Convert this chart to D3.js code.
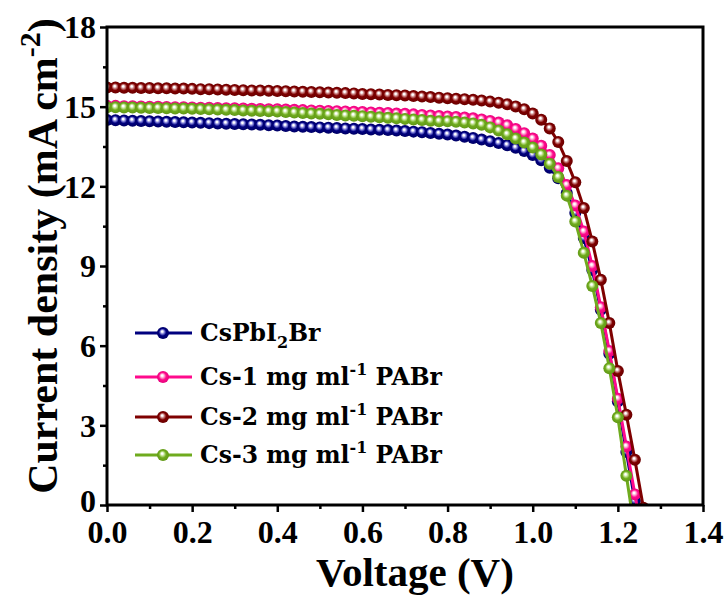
<!DOCTYPE html>
<html>
<head>
<meta charset="utf-8">
<script src="https://cdn.jsdelivr.net/npm/d3@7"></script>
<style>
  body { margin: 0; background: #fff; }
  svg { display: block; }
</style>
</head>
<body>
<svg id="chart"></svg>
<script>
// measured voltage steps (V)
const voltage = [
  0.00, 0.02, 0.04, 0.06, 0.08, 0.10, 0.12, 0.14, 0.16, 0.18,
  0.20, 0.22, 0.24, 0.26, 0.28, 0.30, 0.32, 0.34, 0.36, 0.38,
  0.40, 0.42, 0.44, 0.46, 0.48, 0.50, 0.52, 0.54, 0.56, 0.58,
  0.60, 0.62, 0.64, 0.66, 0.68, 0.70, 0.72, 0.74, 0.76, 0.78,
  0.80, 0.82, 0.84, 0.86, 0.88, 0.90, 0.92, 0.94, 0.96, 0.98,
  1.00, 1.02, 1.04, 1.06, 1.08, 1.10, 1.12, 1.14, 1.16, 1.18,
  1.20, 1.22, 1.24, 1.26
];

// current density (mA cm-2), one value per voltage step
const jCsPbI2Br = [
  14.50, 14.49, 14.48, 14.47, 14.46, 14.45, 14.44, 14.43, 14.42, 14.41,
  14.40, 14.39, 14.38, 14.37, 14.36, 14.35, 14.34, 14.33, 14.32, 14.30,
  14.29, 14.27, 14.25, 14.24, 14.23, 14.22, 14.21, 14.20, 14.18, 14.17,
  14.16, 14.14, 14.13, 14.12, 14.10, 14.08, 14.06, 14.04, 14.01, 13.98,
  13.95, 13.91, 13.87, 13.82, 13.76, 13.70, 13.63, 13.55, 13.45, 13.33,
  13.18, 12.98, 12.70, 12.30, 11.75, 11.00, 10.05, 8.85, 7.35, 5.70,
  3.90, 2.00, 0.15, -1.70
];
const jCs1 = [
  15.03, 15.03, 15.02, 15.02, 15.01, 15.00, 15.00, 14.99, 14.98, 14.98,
  14.97, 14.96, 14.96, 14.95, 14.94, 14.94, 14.93, 14.92, 14.91, 14.90,
  14.90, 14.89, 14.88, 14.87, 14.86, 14.85, 14.84, 14.83, 14.82, 14.81,
  14.80, 14.78, 14.77, 14.76, 14.74, 14.73, 14.71, 14.69, 14.67, 14.65,
  14.63, 14.61, 14.59, 14.56, 14.52, 14.46, 14.40, 14.30, 14.16, 14.00,
  13.80, 13.53, 13.18, 12.68, 12.05, 11.28, 10.30, 9.00, 7.45, 5.80,
  4.00, 2.20, 0.40, -1.40
];
const jCs2 = [
  15.72, 15.72, 15.71, 15.71, 15.70, 15.70, 15.69, 15.69, 15.68, 15.68,
  15.67, 15.66, 15.66, 15.65, 15.64, 15.63, 15.62, 15.61, 15.61, 15.60,
  15.59, 15.58, 15.57, 15.56, 15.55, 15.54, 15.53, 15.52, 15.51, 15.50,
  15.48, 15.47, 15.46, 15.44, 15.43, 15.42, 15.40, 15.38, 15.36, 15.34,
  15.32, 15.30, 15.28, 15.26, 15.23, 15.19, 15.15, 15.09, 15.01, 14.90,
  14.74, 14.51, 14.18, 13.67, 12.95, 12.15, 11.18, 9.92, 8.48, 6.85,
  5.05, 3.40, 1.70, -0.10
];
const jCs3 = [
  14.98, 14.98, 14.97, 14.97, 14.96, 14.95, 14.95, 14.94, 14.93, 14.93,
  14.92, 14.91, 14.90, 14.89, 14.88, 14.87, 14.86, 14.85, 14.84, 14.83,
  14.82, 14.80, 14.78, 14.76, 14.74, 14.73, 14.71, 14.69, 14.67, 14.66,
  14.64, 14.62, 14.60, 14.58, 14.56, 14.54, 14.52, 14.50, 14.47, 14.45,
  14.45, 14.43, 14.40, 14.37, 14.32, 14.22, 14.10, 13.96, 13.80, 13.65,
  13.46, 13.20, 12.85, 12.35, 11.65, 10.68, 9.50, 8.25, 6.85, 5.15,
  3.30, 1.10, -1.00
];

const xTicks = [0, 0.2, 0.4, 0.6, 0.8, 1.0, 1.2, 1.4];
const yTicks = [0, 3, 6, 9, 12, 15, 18];

const series = [
  {id: 'cspbi2br', j: jCsPbI2Br, color: '#00007f', light: '#8080d8', dark: '#000060'},
  {id: 'cs1', j: jCs1, color: '#ff0a8c', light: '#ff9ccc', dark: '#e00078'},
  {id: 'cs2', j: jCs2, color: '#7f0000', light: '#c88080', dark: '#660000'},
  {id: 'cs3', j: jCs3, color: '#6fab1e', light: '#bde08a', dark: '#5e9414'}
];

const width = 728;
const height = 597;
const margin = {top: 27, right: 25, bottom: 92, left: 107};
const w = width - margin.left - margin.right;
const h = height - margin.top - margin.bottom;

const svg = d3.select('#chart')
    .attr('width', width)
    .attr('height', height);

// shiny ball gradients
const defs = svg.append('defs');
series.forEach(s => {
  const g = defs.append('radialGradient')
      .attr('id', 'ball-' + s.id)
      .attr('cx', '0.5').attr('cy', '0.5').attr('r', '0.55')
      .attr('fx', '0.42').attr('fy', '0.36');
  g.append('stop').attr('offset', '0').attr('stop-color', '#ffffff');
  g.append('stop').attr('offset', '0.12').attr('stop-color', '#ffffff');
  g.append('stop').attr('offset', '0.32').attr('stop-color', s.light);
  g.append('stop').attr('offset', '0.55').attr('stop-color', s.color);
  g.append('stop').attr('offset', '1').attr('stop-color', s.dark);
});
defs.append('clipPath').attr('id', 'plot-clip')
  .append('rect').attr('width', w).attr('height', h);

const g = svg.append('g')
    .attr('transform', `translate(${margin.left}, ${margin.top})`);

const xscale = d3.scaleLinear().domain([0, 1.4]).range([0, w]);
const yscale = d3.scaleLinear().domain([0, 18]).range([h, 0]);

const serif = '"Liberation Serif", "Times New Roman", serif';

// minor ticks
g.append('g')
  .attr('transform', `translate(0, ${h})`)
  .call(d3.axisBottom(xscale).tickValues(d3.range(0.1, 1.4, 0.2)).tickSize(4).tickFormat(''))
  .call(a => a.select('.domain').remove())
  .selectAll('line').attr('stroke-width', 2.5);
g.append('g')
  .call(d3.axisLeft(yscale).tickValues(d3.range(1.5, 18, 3)).tickSize(4).tickFormat(''))
  .call(a => a.select('.domain').remove())
  .selectAll('line').attr('stroke-width', 2.5);

// major ticks
const xaxis = g.append('g')
  .attr('transform', `translate(0, ${h})`)
  .call(d3.axisBottom(xscale).tickValues(xTicks).tickSize(7).tickPadding(8).tickFormat(d3.format('.1f')));
xaxis.select('.domain').remove();
xaxis.selectAll('line').attr('stroke-width', 2.5);
xaxis.selectAll('text')
  .attr('font-family', serif).attr('font-weight', 'bold').attr('font-size', '32px').attr('fill', '#000');

const yaxis = g.append('g')
  .call(d3.axisLeft(yscale).tickValues(yTicks).tickSize(7).tickPadding(4).tickFormat(d3.format('d')));
yaxis.select('.domain').remove();
yaxis.selectAll('line').attr('stroke-width', 2.5);
yaxis.selectAll('text')
  .attr('font-family', serif).attr('font-weight', 'bold').attr('font-size', '32px').attr('fill', '#000')
  .attr('dy', d => d === 0 ? '0.2em' : '0.34em');

// curves
const line = d3.line()
  .x((d, i) => xscale(voltage[i]))
  .y(d => yscale(d));

const plot = g.append('g').attr('clip-path', 'url(#plot-clip)');
series.forEach(s => {
  const sg = plot.append('g');
  sg.append('path')
    .attr('d', line(s.j))
    .attr('fill', 'none')
    .attr('stroke', s.color)
    .attr('stroke-width', 3);
  sg.selectAll('circle').data(s.j).enter().append('circle')
    .attr('cx', (d, i) => xscale(voltage[i]))
    .attr('cy', d => yscale(d))
    .attr('r', 6)
    .attr('fill', `url(#ball-${s.id})`);
});

// frame
g.append('rect')
  .attr('width', w).attr('height', h)
  .attr('fill', 'none').attr('stroke', '#000').attr('stroke-width', 3);

// axis titles
svg.append('text')
  .attr('x', margin.left + w / 2 + 10)
  .attr('y', 586)
  .attr('text-anchor', 'middle')
  .attr('font-family', serif).attr('font-weight', 'bold').attr('font-size', '41px')
  .text('Voltage (V)');

const ytitle = svg.append('text')
  .attr('transform', `translate(57, ${margin.top + h / 2 - 10}) rotate(-90)`)
  .attr('text-anchor', 'middle')
  .attr('font-family', serif).attr('font-weight', 'bold').attr('font-size', '42px');
ytitle.append('tspan').text('Current density (mA cm');
ytitle.append('tspan').attr('font-size', '30px').attr('dy', '-17').text('-2');
ytitle.append('tspan').attr('dy', '17').text(')');

// legend
const legendFont = '"DejaVu Serif", serif';
const legendRows = [
  {s: series[0], y: 333, parts: [['CsPbI', 0], ['2', 1], ['Br', 0]]},
  {s: series[1], y: 377, parts: [['Cs-1 mg ml', 0], ['-1', -1], [' PABr', 0]]},
  {s: series[2], y: 417, parts: [['Cs-2 mg ml', 0], ['-1', -1], [' PABr', 0]]},
  {s: series[3], y: 455, parts: [['Cs-3 mg ml', 0], ['-1', -1], [' PABr', 0]]}
];
const legend = svg.append('g');
legendRows.forEach(r => {
  legend.append('line')
    .attr('x1', 135).attr('x2', 192).attr('y1', r.y).attr('y2', r.y)
    .attr('stroke', r.s.color).attr('stroke-width', 3);
  legend.append('circle')
    .attr('cx', 163).attr('cy', r.y).attr('r', 6)
    .attr('fill', `url(#ball-${r.s.id})`);
  const t = legend.append('text')
    .attr('x', 200).attr('y', r.y + 8)
    .attr('font-family', legendFont).attr('font-weight', 'bold').attr('font-size', '23.5px');
  let shift = 0;
  r.parts.forEach(p => {
    const ts = t.append('tspan').text(p[0]);
    const target = p[1] === 1 ? 7 : p[1] === -1 ? -10 : 0;
    if (p[1] !== 0) ts.attr('font-size', '16px');
    if (target !== shift) ts.attr('dy', target - shift);
    shift = target;
  });
});
</script>
</body>
</html>
